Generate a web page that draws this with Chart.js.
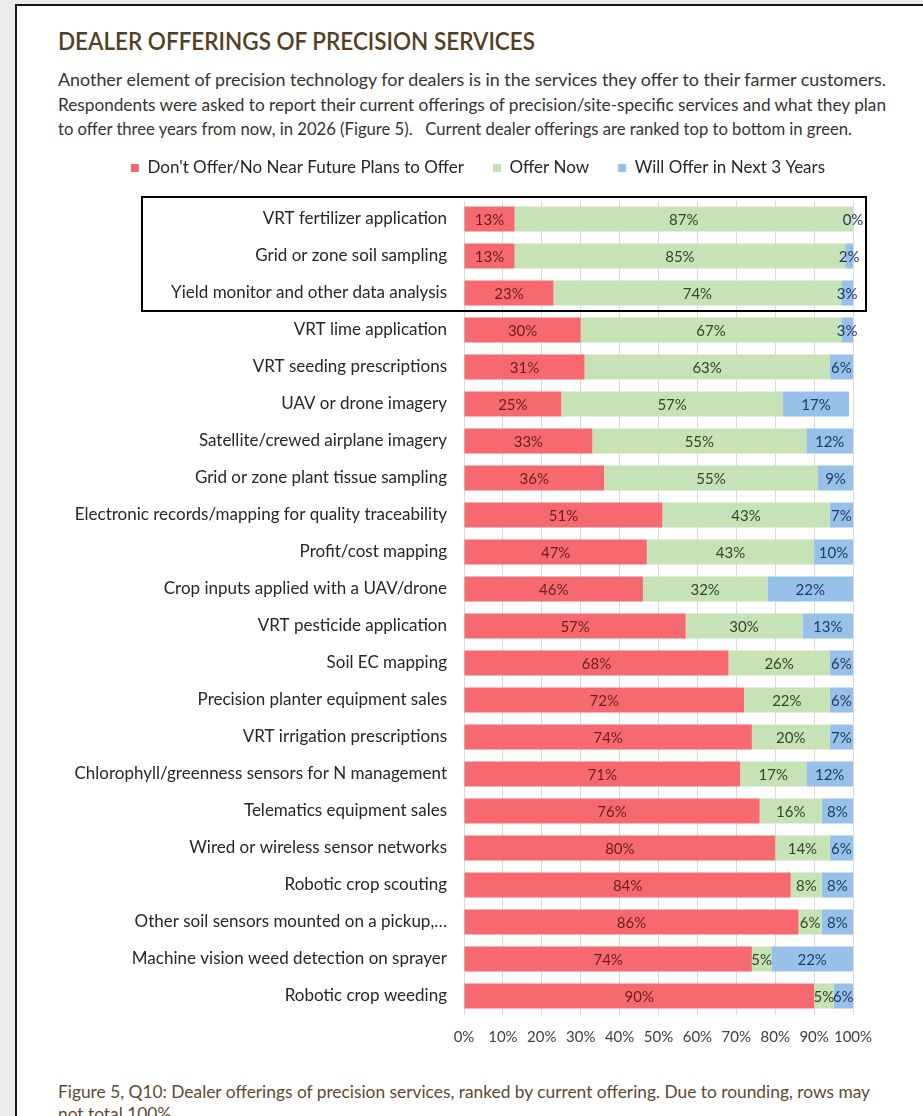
<!DOCTYPE html>
<html>
<head>
<meta charset="utf-8">
<script src="https://cdn.jsdelivr.net/npm/chart.js@4.4.0/dist/chart.umd.min.js"></script>
<style>
  html, body { margin: 0; padding: 0; }
  body { width: 923px; height: 1116px; overflow: hidden; position: relative; background: #ffffff; font-family: Lato, "Open Sans", sans-serif; }
  .bgl { position: absolute; left: 0; top: 0; width: 15px; height: 1116px; background: #ececec; }
  .bgt { position: absolute; left: 0; top: 0; width: 923px; height: 4px; background: #ececec; }
  .frame { position: absolute; left: 15px; top: 4px; width: 920px; height: 1130px; border-left: 2px solid #151515; border-top: 2px solid #151515; box-sizing: border-box; }
  .t { position: absolute; white-space: nowrap; line-height: 1; transform-origin: 0 0; }
  #title { left: 58px; top: 29px; font-size: 24px; font-weight: 600; color: #553f22; }
  .para { left: 58px; font-size: 17px; color: #333333; }
  .cap { left: 58px; font-size: 17px; color: #5c4a30; }
  #chartwrap { position: absolute; left: 40px; top: 110px; width: 876px; height: 945px; }
</style>
</head>
<body>
<div class="bgl"></div>
<div class="bgt"></div>
<div class="frame"></div>
<div id="title" class="t" data-w="477">DEALER OFFERINGS OF PRECISION SERVICES</div>
<div class="t para" style="top:70.5px" data-w="828">Another element of precision technology for dealers is in the services they offer to their farmer customers.</div>
<div class="t para" style="top:95.5px" data-w="828">Respondents were asked to report their current offerings of precision/site-specific services and what they plan</div>
<div class="t para" style="top:119.5px" data-w="794">to offer three years from now, in 2026 (Figure 5).&nbsp;&nbsp; Current dealer offerings are ranked top to bottom in green.</div>
<div id="chartwrap"><canvas id="c" width="876" height="945"></canvas></div>
<div id="cap1" class="t cap" style="top:1083px" data-w="812">Figure 5, Q10: Dealer offerings of precision services, ranked by current offering. Due to rounding, rows may</div>
<div id="cap2" class="t cap" style="top:1105px">not total 100%.</div>

<script>
// ---- Data ----
const categories = [
  "VRT fertilizer application",
  "Grid or zone soil sampling",
  "Yield monitor and other data analysis",
  "VRT lime application",
  "VRT seeding prescriptions",
  "UAV or drone imagery",
  "Satellite/crewed airplane imagery",
  "Grid or zone plant tissue sampling",
  "Electronic records/mapping for quality traceability",
  "Profit/cost mapping",
  "Crop inputs applied with a UAV/drone",
  "VRT pesticide application",
  "Soil EC mapping",
  "Precision planter equipment sales",
  "VRT irrigation prescriptions",
  "Chlorophyll/greenness sensors for N management",
  "Telematics equipment sales",
  "Wired or wireless sensor networks",
  "Robotic crop scouting",
  "Other soil sensors mounted on a pickup,…",
  "Machine vision weed detection on sprayer",
  "Robotic crop weeding"
];
const dontOffer = [13, 13, 23, 30, 31, 25, 33, 36, 51, 47, 46, 57, 68, 72, 74, 71, 76, 80, 84, 86, 74, 90];
const offerNow  = [87, 85, 74, 67, 63, 57, 55, 55, 43, 43, 32, 30, 26, 22, 20, 17, 16, 14, 8, 6, 5, 5];
const willOffer = [0, 2, 3, 3, 6, 17, 12, 9, 7, 10, 22, 13, 6, 6, 7, 12, 8, 6, 8, 8, 22, 6];
const seriesNames = ["Don't Offer/No Near Future Plans to Offer", "Offer Now", "Will Offer in Next 3 Years"];
const xTicks = [0, 10, 20, 30, 40, 50, 60, 70, 80, 90, 100];

// ---- fit text widths ----
document.querySelectorAll('.t').forEach(el => {
  const w = parseFloat(el.getAttribute('data-w'));
  if (w) {
    const s = w / el.getBoundingClientRect().width;
    el.style.transform = 'scaleX(' + s + ')';
    el.dataset.s = s;
  }
});
(function(){
  const c1 = document.getElementById('cap1');
  document.getElementById('cap2').style.transform = 'scaleX(' + c1.dataset.s + ')';
})();

const FONT = 'Lato';
const fills = ['#f66a6f', '#c7e2b7', '#98c1ea'];
const labelColors = ['#6b1c1e', '#34452a', '#1d3b68'];
const LEGEND_CENTER = 438; // canvas-x of legend centre

const legendSpace = {
  id: 'legendSpace',
  beforeInit(chart) {
    const orig = chart.legend.fit;
    chart.legend.fit = function () { orig.call(this); this.height += 14; };
  },
  afterLayout(chart) {
    const lg = chart.legend;
    const dx = LEGEND_CENTER - (lg.left + lg.right) / 2;
    lg.left += dx; lg.right += dx;
    if (lg.adjustHitBoxes) lg.adjustHitBoxes();
  }
};

const barLabels = {
  id: 'barLabels',
  afterDatasetsDraw(chart) {
    const ctx = chart.ctx;
    const right = chart.chartArea.right;
    ctx.save();
    ctx.font = '15px ' + FONT;
    ctx.textAlign = 'center';
    ctx.textBaseline = 'middle';
    chart.data.datasets.forEach((ds, di) => {
      const meta = chart.getDatasetMeta(di);
      meta.data.forEach((bar, i) => {
        const a = Math.min(bar.x, right), b = Math.min(bar.base, right);
        ctx.fillStyle = labelColors[di];
        ctx.fillText(ds.data[i] + '%', (a + b) / 2, bar.y + 1);
      });
    });
    ctx.restore();
  }
};

const highlightBox = {
  id: 'highlightBox',
  afterDraw(chart) {
    const y = chart.scales.y, ca = chart.chartArea, ctx = chart.ctx;
    const top = y.getPixelForValue(0) - 22;
    const bottom = y.getPixelForValue(2) + 18;
    const left = ca.left - 322, rightX = ca.right + 13;
    ctx.save();
    ctx.strokeStyle = '#000000';
    ctx.lineWidth = 2;
    ctx.strokeRect(left, top, rightX - left, bottom - top);
    ctx.restore();
  }
};

new Chart(document.getElementById('c'), {
  type: 'bar',
  data: {
    labels: categories,
    datasets: [
      { label: seriesNames[0], data: dontOffer, backgroundColor: fills[0], borderWidth: 0 },
      { label: seriesNames[1], data: offerNow, backgroundColor: fills[1], borderWidth: 0 },
      { label: seriesNames[2], data: willOffer, backgroundColor: fills[2], borderWidth: 0 }
    ]
  },
  options: {
    indexAxis: 'y',
    responsive: false,
    animation: false,
    events: [],
    barPercentage: 0.68,
    categoryPercentage: 1,
    layout: { padding: { top: 20.5, left: 20, right: 63, bottom: 0 } },
    plugins: {
      tooltip: { enabled: false },
      legend: {
        position: 'top',
        labels: {
          boxWidth: 8, boxHeight: 8, padding: 29,
          color: '#262626',
          font: { family: FONT, size: 17 }
        }
      }
    },
    scales: {
      x: {
        stacked: true, min: 0, max: 100,
        afterBuildTicks(s) { s.ticks = xTicks.map(v => ({ value: v })); },
        afterFit(s) { s.height = 40.5; },
        ticks: { callback: v => v + '%', color: '#404040', padding: 14, maxRotation: 0, minRotation: 0, autoSkip: false, font: { family: FONT, size: 15 } },
        grid: { color: '#dadada', drawTicks: false },
        border: { display: false }
      },
      y: {
        stacked: true,
        afterFit(s) { s.width = 404; },
        ticks: { color: '#262626', padding: 17, font: { family: FONT, size: 17 } },
        grid: { display: false, drawTicks: false },
        border: { display: false }
      }
    }
  },
  plugins: [legendSpace, barLabels, highlightBox]
});
</script>
</body>
</html>
